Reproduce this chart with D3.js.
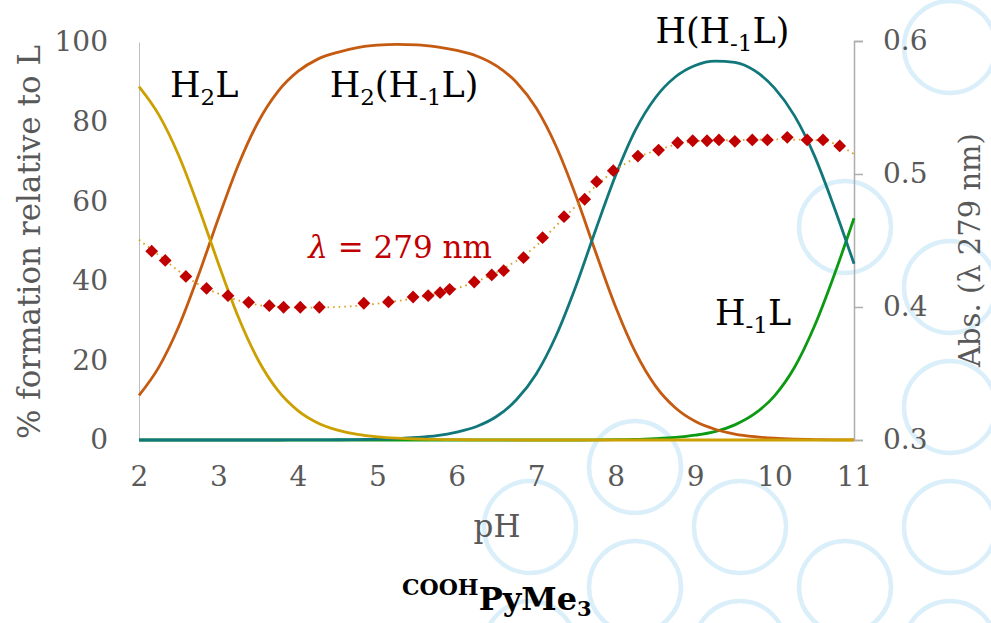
<!DOCTYPE html>
<html>
<head>
<meta charset="utf-8">
<script src="https://cdn.jsdelivr.net/npm/d3@7"></script>
<style>
  body { margin: 0; background: #fff; }
  svg { display: block; }
  svg text { font-family: "DejaVu Serif", "Liberation Serif", serif; }
  .axis text { fill: #595959; }
</style>
</head>
<body>
<script>
// Speciation (% formation relative to L) and absorbance at 279 nm vs pH

var svgWidth = 991;
var svgHeight = 623;

// pH grid for the species curves
var pH = [2, 2.25, 2.5, 2.75, 3, 3.25, 3.5, 3.75, 4, 4.25, 4.5, 4.75, 5, 5.25, 5.5, 5.75,
  6, 6.25, 6.5, 6.75, 7, 7.25, 7.5, 7.75, 8, 8.25, 8.5, 8.75, 9, 9.25, 9.5, 9.75,
  10, 10.25, 10.5, 10.75, 11];

var h2l = [88.8, 81.7, 71.5, 58.5, 44.3, 30.9, 20.1, 12.4, 7.4, 4.3, 2.5, 1.4, 0.8, 0.45, 0.25, 0.14,
  0.08, 0.04, 0.02, 0, 0, 0, 0, 0, 0, 0, 0, 0, 0, 0, 0, 0,
  0, 0, 0, 0, 0];

var h2hl = [11.2, 18.3, 28.5, 41.5, 55.7, 69.1, 79.9, 87.6, 92.6, 95.7, 97.4, 98.6, 99.2, 99.4, 99.3, 98.8,
  97.9, 96.5, 94.0, 89.9, 83.4, 73.8, 61.3, 47.1, 33.4, 22.0, 13.6, 8.1, 4.7, 2.7, 1.5, 0.83,
  0.44, 0.23, 0.11, 0.05, 0.02];

var hhl = [0, 0, 0, 0, 0, 0, 0, 0, 0.02, 0.04, 0.06, 0.11, 0.2, 0.35, 0.63, 1.1,
  2.0, 3.4, 5.9, 10.1, 16.6, 26.2, 38.7, 52.9, 66.5, 77.9, 86.0, 91.2, 94.1, 95.2, 94.9, 92.8,
  88.4, 81.5, 71.5, 58.5, 44.3];

var hl = [0, 0, 0, 0, 0, 0, 0, 0, 0, 0, 0, 0, 0, 0, 0, 0,
  0, 0, 0, 0, 0, 0, 0, 0.04, 0.08, 0.14, 0.34, 0.65, 1.2, 2.1, 3.8, 6.6,
  11.1, 18.2, 28.5, 41.4, 55.7];

// absorbance at 279 nm (measured points)
var absPH = [2.16, 2.33, 2.59, 2.85, 3.12, 3.38, 3.64, 3.82, 4.03, 4.27, 4.83, 5.14, 5.45, 5.64,
  5.79, 5.91, 6.22, 6.44, 6.59, 6.84, 7.08, 7.35, 7.61, 7.76, 7.97, 8.28, 8.54, 8.78,
  8.97, 9.15, 9.30, 9.50, 9.72, 9.91, 10.16, 10.41, 10.61, 10.82];
var absVal = [0.442, 0.435, 0.423, 0.414, 0.4085, 0.4035, 0.401, 0.3998, 0.3998, 0.3998, 0.4028, 0.4038, 0.4075, 0.4085,
  0.4108, 0.4133, 0.4188, 0.4241, 0.4273, 0.4371, 0.4521, 0.4679, 0.481, 0.4942, 0.5025, 0.5135, 0.518, 0.5235,
  0.525, 0.525, 0.5256, 0.5246, 0.5256, 0.5256, 0.5276, 0.5256, 0.5256, 0.5211];

// dotted trend through the absorbance points
var fitPH = [2, 2.25, 2.5, 2.75, 3, 3.25, 3.5, 3.75, 4, 4.5, 5, 5.5, 6, 6.5, 7, 7.25, 7.5, 7.75,
  8, 8.25, 8.5, 8.75, 9, 9.5, 10, 10.5, 10.75, 11];
var fitVal = [0.4505, 0.439, 0.427, 0.417, 0.410, 0.405, 0.4015, 0.400, 0.3995, 0.400, 0.4025, 0.407, 0.414, 0.426, 0.446, 0.461, 0.476, 0.491,
  0.503, 0.512, 0.5175, 0.522, 0.5245, 0.5255, 0.526, 0.5255, 0.523, 0.515];

var xTicks = [2, 3, 4, 5, 6, 7, 8, 9, 10, 11];
var leftTicks = [0, 20, 40, 60, 80, 100];
var rightTicks = [0.3, 0.4, 0.5, 0.6];

// background rings (hex grid cells: column, row)
var rings = [[0, 4], [0, 5], [1, 3], [1, 4], [2, 4], [2, 5], [3, 1], [3, 4],
  [4, 0], [4, 2], [4, 3], [4, 4], [4, 5]];

var svg = d3.select('body').append('svg')
  .attr('width', svgWidth)
  .attr('height', svgHeight);

// rings behind the chart
svg.append('g')
  .selectAll('circle')
  .data(rings)
  .enter()
  .append('circle')
  .attr('cx', function(d) { return 530 + d[0] * 105; })
  .attr('cy', function(d) { return 47 + d[1] * 120 + (d[0] % 2 ? 60 : 0); })
  .attr('r', 46)
  .attr('fill', 'none')
  .attr('stroke', '#DAEFF9')
  .attr('stroke-width', 4.5);

var xScale = d3.scaleLinear().domain([2, 11]).range([139, 854]);
var yScale = d3.scaleLinear().domain([0, 100]).range([440, 42]);
var yAbs = d3.scaleLinear().domain([0.3, 0.6]).range([440, 41]);

// axes
var bottomAxis = d3.axisBottom(xScale).tickValues(xTicks).tickSize(0).tickPadding(26)
  .tickFormat(d3.format('d'));
var gx = svg.append('g').attr('class', 'axis')
  .attr('transform', 'translate(0,440)')
  .call(bottomAxis);
gx.select('.domain').attr('stroke', '#D9D9D9');
gx.selectAll('text').attr('font-size', 28).attr('font-family', null);

var leftAxis = d3.axisLeft(yScale).tickValues(leftTicks).tickSize(0).tickPadding(31);
var gl = svg.append('g').attr('class', 'axis')
  .attr('transform', 'translate(139,0)')
  .call(leftAxis);
gl.select('.domain').attr('stroke', '#BFBFBF');
gl.selectAll('text').attr('font-size', 28).attr('font-family', null);

var rightAxis = d3.axisRight(yAbs).tickValues(rightTicks).tickSize(9).tickPadding(20)
  .tickFormat(d3.format('.1f'));
var gr = svg.append('g').attr('class', 'axis')
  .attr('transform', 'translate(854,0)')
  .call(rightAxis);
gr.select('.domain').attr('stroke', '#ADADAD').attr('stroke-width', 1.5);
gr.selectAll('line').attr('stroke', '#ADADAD').attr('stroke-width', 1.5);
gr.selectAll('text').attr('font-size', 28).attr('font-family', null);

// axis titles
svg.append('text')
  .attr('transform', 'translate(40,242) rotate(-90)')
  .attr('text-anchor', 'middle')
  .attr('font-size', 31)
  .attr('fill', '#595959')
  .text('% formation relative to L');

svg.append('text')
  .attr('transform', 'translate(980,250) rotate(-90)')
  .attr('text-anchor', 'middle')
  .attr('font-size', 29)
  .attr('fill', '#595959')
  .text('Abs. (λ 279 nm)');

svg.append('text')
  .attr('x', 497)
  .attr('y', 537)
  .attr('text-anchor', 'middle')
  .attr('font-size', 31)
  .attr('fill', '#595959')
  .text('pH');

// species curves
var species = [
  { values: hl, color: '#0B9A12' },
  { values: h2hl, color: '#C55A11' },
  { values: hhl, color: '#11777A' },
  { values: h2l, color: '#CCA000' }
];

var line = d3.line()
  .x(function(d) { return xScale(d[0]); })
  .y(function(d) { return yScale(d[1]); })
  .curve(d3.curveMonotoneX);

svg.append('g')
  .selectAll('path')
  .data(species)
  .enter()
  .append('path')
  .attr('d', function(s) { return line(d3.zip(pH, s.values)); })
  .attr('fill', 'none')
  .attr('stroke', function(s) { return s.color; })
  .attr('stroke-width', 2.8);

// absorbance trend (dotted) and points
var absLine = d3.line()
  .x(function(d) { return xScale(d[0]); })
  .y(function(d) { return yAbs(d[1]); })
  .curve(d3.curveMonotoneX);

svg.append('path')
  .attr('d', absLine(d3.zip(fitPH, fitVal)))
  .attr('fill', 'none')
  .attr('stroke', '#D4A21C')
  .attr('stroke-width', 1.8)
  .attr('stroke-dasharray', '1.6,4');

svg.append('g')
  .selectAll('path')
  .data(d3.zip(absPH, absVal))
  .enter()
  .append('path')
  .attr('d', d3.symbol().type(d3.symbolSquare).size(82))
  .attr('transform', function(d) {
    return 'translate(' + xScale(d[0]) + ',' + yAbs(d[1]) + ') rotate(45)';
  })
  .attr('fill', '#C00000');

// species labels: [text parts, pH, %]; parts with sub=true are subscripts
var labels = [
  { parts: [['H'], ['2', true], ['L']], x: 2.39, y: 86.2 },
  { parts: [['H'], ['2', true], ['(H'], ['-1', true], ['L)']], x: 4.4, y: 86.2 },
  { parts: [['H(H'], ['-1', true], ['L)']], x: 8.5, y: 99.7 },
  { parts: [['H'], ['-1', true], ['L']], x: 9.25, y: 28.9 }
];

labels.forEach(function(lb) {
  var t = svg.append('text')
    .attr('x', xScale(lb.x))
    .attr('y', yScale(lb.y))
    .attr('font-size', 35)
    .attr('fill', '#000');
  var shifted = false;
  lb.parts.forEach(function(p) {
    var sp = t.append('tspan').text(p[0]);
    if (p[1]) {
      sp.attr('font-size', 23).attr('dy', 8);
      shifted = true;
    } else {
      if (shifted) { sp.attr('dy', -8); shifted = false; }
    }
  });
});

var lam = svg.append('text')
  .attr('x', xScale(4.13))
  .attr('y', yScale(45.7))
  .attr('font-size', 31)
  .attr('fill', '#C00000');
lam.append('tspan').attr('font-style', 'italic').text('λ');
lam.append('tspan').text(' = 279 nm');

// compound name
var title = svg.append('text')
  .attr('x', 402)
  .attr('y', 610)
  .attr('font-weight', 'bold')
  .attr('fill', '#000');
title.append('tspan').attr('font-size', 22).attr('dy', -15).text('COOH');
title.append('tspan').attr('font-size', 32).attr('dy', 15).text('PyMe');
title.append('tspan').attr('font-size', 21).attr('dy', 6).text('3');
</script>
</body>
</html>
